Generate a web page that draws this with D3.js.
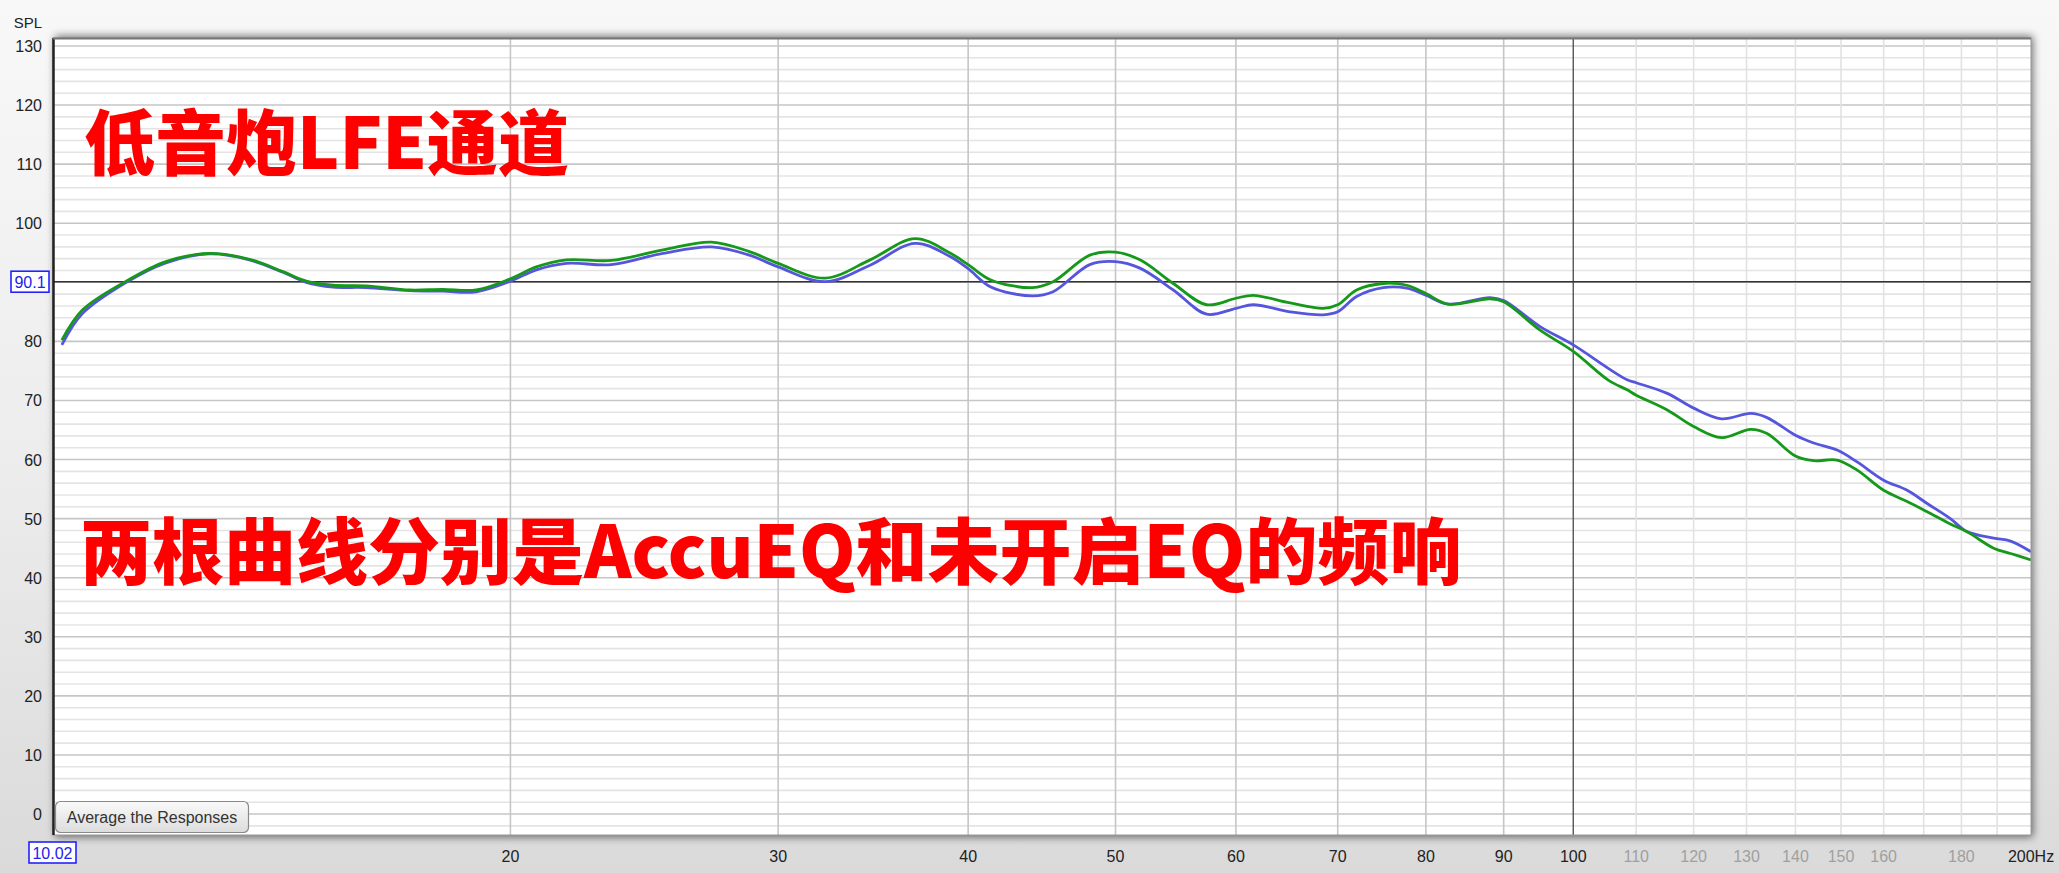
<!DOCTYPE html>
<html><head><meta charset="utf-8">
<script src="https://cdn.jsdelivr.net/npm/d3@7"></script>
<style>
html,body{margin:0;padding:0;overflow:hidden;}
svg{display:block;}
</style></head>
<body>
<svg id="chart" width="2059" height="873"></svg>
<script>
// ---- data ----
const freqs = [10.14,10.46,11.18,11.87,12.68,13.47,14.17,14.68,15.29,16.07,17.17,18.05,18.99,20.0,20.8,21.77,23.3,25.2,27.12,28.72,30.0,32.22,34.48,36.91,38.89,40.0,41.4,44.09,45.49,48.09,50.0,51.88,54.57,57.4,60.0,61.6,65.13,68.48,70.0,72.03,75.0,77.71,80.0,82.76,88.15,90.0,95.1,100.0,105.5,108.5,110.0,115.3,120.0,125.2,130.8,134.1,140.0,143.9,149.1,153.7,160.0,165.8,170.8,177.0,181.5,189.0,193.9,200.0];
const greenSPL = [80.2,85.3,90.2,93.5,94.9,93.9,91.8,90.2,89.5,89.4,88.7,88.8,88.7,90.6,92.6,93.8,93.7,95.5,96.8,95.2,93.2,90.7,93.8,97.4,95.0,93.0,90.4,89.1,90.1,94.6,95.1,93.8,89.8,86.2,87.3,87.8,86.5,85.6,86.2,88.7,89.8,89.5,88.1,86.3,87.2,86.7,81.9,78.3,73.4,71.8,70.9,68.4,65.6,63.7,65.1,64.4,60.6,59.8,59.9,58.2,54.8,52.9,51.2,49.1,47.8,45.0,44.1,43.0];
const blueSPL  = [79.4,84.7,90.0,93.3,94.8,93.8,91.7,90.0,89.2,89.1,88.6,88.5,88.4,90.2,92.1,93.2,93.0,94.9,96.0,94.6,92.6,90.1,92.9,96.6,94.4,92.3,89.2,87.7,88.4,93.0,93.5,92.4,88.7,84.6,85.6,86.2,85.0,84.5,85.0,87.6,89.1,89.0,87.8,86.3,87.4,86.9,82.5,79.4,75.4,73.5,73.0,71.2,68.7,66.9,67.8,67.1,64.1,62.8,61.6,59.6,56.5,54.8,52.6,50.0,47.8,46.7,46.2,44.4];
const yTickLabels = [0,10,20,30,40,50,60,70,80,100,110,120,130];
const xDarkTicks = [20,30,40,50,60,70,80,90,100];
const xLightTicks = [110,120,130,140,150,160,180];
const xLightGrid = [110,120,130,140,150,160,170,180,190];
const refLevel = 90.1;
const startFreqLabel = "10.02";
const titleLine1 = "低音炮LFE通道";
const titleLine2 = "两根曲线分别是AccuEQ和未开启EQ的频响";

// ---- layout ----
const W = 2059, H = 873;
const plot = {left: 53, right: 2031, top: 38, bottom: 835};
const x = d3.scaleLog().domain([10.02, 200]).range([54, 2031]);
const y = d3.scaleLinear().domain([-3.55, 131.35]).range([plot.bottom, plot.top]);

const svg = d3.select("#chart");
const defs = svg.append("defs");
const bg = defs.append("linearGradient").attr("id","bg").attr("x1",0).attr("y1",0).attr("x2",0).attr("y2",1);
bg.append("stop").attr("offset","0%").attr("stop-color","#f8f8f8");
bg.append("stop").attr("offset","55%").attr("stop-color","#ececec");
bg.append("stop").attr("offset","100%").attr("stop-color","#dadada");
const btn = defs.append("linearGradient").attr("id","btn").attr("x1",0).attr("y1",0).attr("x2",0).attr("y2",1);
btn.append("stop").attr("offset","0%").attr("stop-color","#fafafa");
btn.append("stop").attr("offset","100%").attr("stop-color","#dcdcdc");
const sh = defs.append("filter").attr("id","shadow").attr("x","-5%").attr("y","-5%").attr("width","110%").attr("height","110%");
sh.append("feGaussianBlur").attr("in","SourceAlpha").attr("stdDeviation",4).attr("result","b");
sh.append("feOffset").attr("in","b").attr("dx",2).attr("dy",0).attr("result","o");
sh.append("feComponentTransfer").attr("in","o").append("feFuncA").attr("type","linear").attr("slope",0.55);
defs.append("clipPath").attr("id","clip").append("rect")
  .attr("x",plot.left).attr("y",plot.top).attr("width",plot.right-plot.left).attr("height",plot.bottom-plot.top);

svg.append("rect").attr("width",W).attr("height",H).attr("fill","url(#bg)");

// plot area with shadow
svg.append("rect").attr("x",plot.left).attr("y",plot.top-2).attr("width",plot.right-plot.left).attr("height",plot.bottom-plot.top+4)
  .attr("fill","#000").attr("filter","url(#shadow)");
svg.append("rect").attr("x",plot.left).attr("y",plot.top).attr("width",plot.right-plot.left).attr("height",plot.bottom-plot.top)
  .attr("fill","#ffffff");

const grid = svg.append("g").attr("clip-path","url(#clip)");
// horizontal grid every 2 dB
const hLines = d3.range(-2, 132, 2);
grid.selectAll("line.h").data(hLines).join("line")
  .attr("x1",plot.left).attr("x2",plot.right)
  .attr("y1",d=>y(d)).attr("y2",d=>y(d))
  .attr("stroke",d=> d%10===0 ? "#c6c6c6" : "#e4e4e4")
  .attr("stroke-width",1.6);
// vertical grid
grid.selectAll("line.vl").data(xLightGrid).join("line")
  .attr("x1",d=>x(d)).attr("x2",d=>x(d)).attr("y1",plot.top).attr("y2",plot.bottom)
  .attr("stroke","#e2e2e2").attr("stroke-width",1.6);
grid.selectAll("line.vd").data(xDarkTicks.filter(d=>d!==100)).join("line")
  .attr("x1",d=>x(d)).attr("x2",d=>x(d)).attr("y1",plot.top).attr("y2",plot.bottom)
  .attr("stroke","#c6c6c6").attr("stroke-width",1.6);
grid.append("line").attr("x1",x(100)).attr("x2",x(100)).attr("y1",plot.top).attr("y2",plot.bottom)
  .attr("stroke","#555").attr("stroke-width",1.4);
// reference level line
grid.append("line").attr("x1",plot.left).attr("x2",plot.right).attr("y1",y(refLevel)).attr("y2",y(refLevel))
  .attr("stroke","#333").attr("stroke-width",1.6);

// curves
const line = d3.line().x(d=>x(d[0])).y(d=>y(d[1])).curve(d3.curveCatmullRom.alpha(0.5));
const blueData = freqs.map((f,i)=>[f,blueSPL[i]]);
const greenData = freqs.map((f,i)=>[f,greenSPL[i]]);
grid.append("path").attr("d",line(blueData)).attr("fill","none").attr("stroke","#5656dd").attr("stroke-width",2.8).attr("stroke-linejoin","round");
grid.append("path").attr("d",line(greenData)).attr("fill","none").attr("stroke","#16991a").attr("stroke-width",2.8).attr("stroke-linejoin","round");

// frame edges
svg.append("rect").attr("x",plot.left).attr("y",plot.top).attr("width",plot.right-plot.left).attr("height",plot.bottom-plot.top)
  .attr("fill","none").attr("stroke","#999").attr("stroke-width",1);
svg.append("line").attr("x1",plot.left+0.5).attr("x2",plot.left+0.5).attr("y1",plot.top).attr("y2",plot.bottom).attr("stroke","#222").attr("stroke-width",2.5);
svg.append("line").attr("x1",plot.left).attr("x2",plot.right).attr("y1",plot.top+0.5).attr("y2",plot.top+0.5).attr("stroke","#777").attr("stroke-width",2);

// y axis labels
const font = "'Liberation Sans', Arial, sans-serif";
svg.append("g").selectAll("text").data(yTickLabels).join("text")
  .attr("x",42).attr("y",d=>y(d)+6).attr("text-anchor","end")
  .attr("font-family",font).attr("font-size",16).attr("fill","#222").text(d=>d);
svg.append("text").attr("x",42).attr("y",28).attr("text-anchor","end")
  .attr("font-family",font).attr("font-size",15).attr("fill","#222").text("SPL");

// x axis labels
svg.append("g").selectAll("text").data(xDarkTicks).join("text")
  .attr("x",d=>x(d)).attr("y",862).attr("text-anchor","middle")
  .attr("font-family",font).attr("font-size",16).attr("fill","#222").text(d=>d);
svg.append("g").selectAll("text").data(xLightTicks).join("text")
  .attr("x",d=>x(d)).attr("y",862).attr("text-anchor","middle")
  .attr("font-family",font).attr("font-size",16).attr("fill","#a0a0a0").text(d=>d);
svg.append("text").attr("x",x(200)).attr("y",862).attr("text-anchor","middle")
  .attr("font-family",font).attr("font-size",16).attr("fill","#222").text("200Hz");

// boxed labels
function boxLabel(cx, cy, w, h, txt){
  svg.append("rect").attr("x",cx).attr("y",cy).attr("width",w).attr("height",h)
    .attr("fill","#fff").attr("stroke","#2222ff").attr("stroke-width",1.6);
  svg.append("text").attr("x",cx+w/2).attr("y",cy+h/2+6).attr("text-anchor","middle")
    .attr("font-family",font).attr("font-size",16).attr("fill","#2222ee").text(txt);
}
boxLabel(11, y(refLevel)-10.5, 38, 21, refLevel);
boxLabel(29, 842, 47, 21, startFreqLabel);

// button
svg.append("rect").attr("x",55.5).attr("y",801.5).attr("width",193).attr("height",31).attr("rx",5)
  .attr("fill","url(#btn)").attr("stroke","#8a8a8a").attr("stroke-width",1.2);
svg.append("text").attr("x",152).attr("y",823).attr("text-anchor","middle")
  .attr("font-family",font).attr("font-size",16).attr("fill","#333").text("Average the Responses");

// red annotations
const cjk = "'Noto Sans CJK SC', 'Noto Sans', sans-serif";
svg.append("text").attr("x",84).attr("y",169).attr("font-family",cjk).attr("font-weight",900)
  .attr("font-size",71).attr("fill","#ff0000").text(titleLine1);
svg.append("text").attr("x",80).attr("y",578).attr("font-family",cjk).attr("font-weight",900)
  .attr("font-size",72).attr("fill","#ff0000").text(titleLine2);
</script>
</body></html>
